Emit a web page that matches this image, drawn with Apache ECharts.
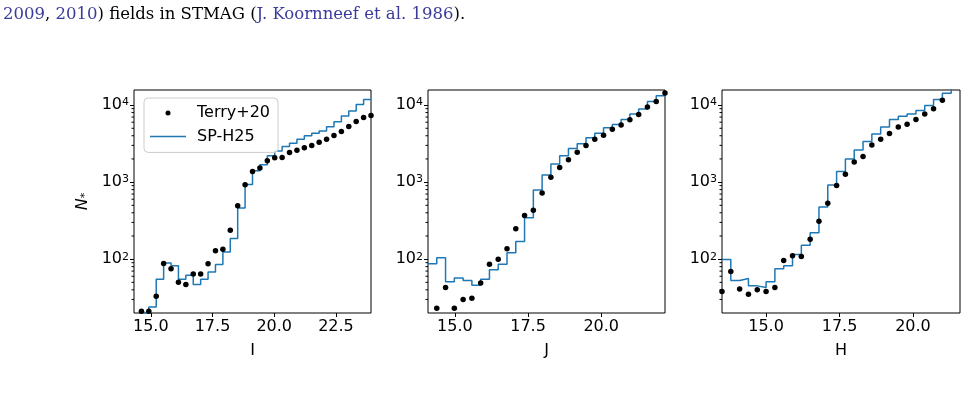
<!DOCTYPE html>
<html>
<head>
<meta charset="utf-8">
<script src="https://cdn.jsdelivr.net/npm/echarts@6/dist/echarts.min.js"></script>
<style>
  html, body { margin: 0; padding: 0; background: #fff; }
  #chart { width: 965px; height: 397px; }
</style>
</head>
<body>
<div id="chart"></div>
<script>
// bin centres (mag) and star counts per panel
const iMag = [14.32, 14.62, 14.92, 15.22, 15.52, 15.82, 16.12, 16.42, 16.72, 17.02, 17.32, 17.62, 17.92, 18.22, 18.52, 18.82, 19.12,
  19.42, 19.72, 20.02, 20.32, 20.62, 20.92, 21.22, 21.52, 21.82, 22.12, 22.42, 22.72, 23.02, 23.32, 23.62, 23.92];
const iTerry = [null, 21, 21, 33, 88, 75, 50, 47, 64, 64, 87, 129, 134, 237, 495, 922, 1377, 1520, 1890, 2070, 2090,
  2430, 2600, 2790, 2990, 3300, 3610, 4040, 4550, 5280, 6130, 6920, 7300];
const iModel = [18, 20.3, 24, 55, 89, 82, 55, 62, 47, 55, 68, 85, 124, 185, 460, 930, 1400, 1680, 2200, 2530, 2890,
  3190, 3590, 4010, 4300, 4600, 5240, 6080, 7200, 8360, 10200, 11840, 11840];

const jMag = [14.08, 14.38, 14.68, 14.98, 15.28, 15.58, 15.88, 16.18, 16.48, 16.78, 17.08, 17.38, 17.68, 17.98, 18.28,
  18.58, 18.88, 19.18, 19.48, 19.78, 20.08, 20.38, 20.68, 20.98, 21.28, 21.58, 21.88, 22.18];
const jTerry = [null, 23, 43, 23, 30, 31, 49, 86, 100, 136, 249, 370, 430, 720, 1160, 1550, 1950, 2450, 2990, 3610,
  4070, 4870, 5500, 6450, 7570, 9420, 11170, 14300];
const jModel = [87, 104, 51, 57, 53, 46, 55, 73, 86, 121, 170, 346, 791, 1240, 1720, 2200, 2740, 3150, 3770, 4300,
  5080, 5610, 6520, 7640, 8870, 11160, 13200, 14500];

const hMag = [13.5, 13.8, 14.1, 14.4, 14.7, 15.0, 15.3, 15.6, 15.9, 16.2, 16.5, 16.8, 17.1, 17.4, 17.7, 18.0, 18.3,
  18.6, 18.9, 19.2, 19.5, 19.8, 20.1, 20.4, 20.7, 21.0, 21.3, 21.6];
const hTerry = [38, 69, 41, 35, 40, 38, 43, 96, 111, 108, 181, 310, 530, 906, 1270, 1820, 2150, 3030, 3610, 4290,
  5180, 5660, 6520, 7640, 8950, 11600, null, null];
const hModel = [99, 53, 56, 45, 43, 51, 75, 82, 115, 151, 221, 476, 918, 1375, 2000, 2620, 3360, 4200, 5210, 6480,
  7160, 7680, 8500, 9850, 11800, 14200, 17500, 19000];

const iTicks = [15, 17.5, 20, 22.5];
const jTicks = [15, 17.5, 20];
const hTicks = [15, 17.5, 20];
const minorTicks = [30, 40, 50, 60, 70, 80, 90, 200, 300, 400, 500, 600, 700, 800, 900,
  2000, 3000, 4000, 5000, 6000, 7000, 8000, 9000];

const FONT = 'DejaVu Sans';
const BLUE = '#1f77b4';
const Y_MIN = 20, Y_MAX = 15700;

const panels = [
  { mag: iMag, terry: iTerry, model: iModel, ticks: iTicks, label: 'I', left: 134, width: 237 },
  { mag: jMag, terry: jTerry, model: jModel, ticks: jTicks, label: 'J', left: 428, width: 237 },
  { mag: hMag, terry: hTerry, model: hModel, ticks: hTicks, label: 'H', left: 722, width: 238 }
];

const myChart = echarts.init(document.getElementById('chart'), null, { renderer: 'canvas' });

const grid = [], xAxis = [], yAxis = [], series = [];
panels.forEach((p, i) => {
  grid.push({
    left: p.left, top: 90, width: p.width, height: 223,
    show: true, borderColor: '#000', borderWidth: 1, backgroundColor: 'transparent'
  });
  xAxis.push({
    gridIndex: i, type: 'value',
    min: p.mag[0], max: p.mag[p.mag.length - 1],
    name: p.label, nameLocation: 'middle', nameGap: 30,
    nameTextStyle: { fontFamily: FONT, fontSize: 16, color: '#000' },
    axisLine: { show: false },
    splitLine: { show: false },
    axisTick: { show: true, length: 4, customValues: p.ticks, lineStyle: { color: '#000', width: 1 } },
    axisLabel: {
      customValues: p.ticks, margin: 6,
      fontFamily: FONT, fontSize: 16, color: '#000',
      formatter: v => v.toFixed(1)
    }
  });
  yAxis.push({
    gridIndex: i, type: 'log', logBase: 10, min: Y_MIN, max: Y_MAX,
    name: i === 0 ? '{n|N}{s|*}' : '', nameLocation: 'middle', nameGap: 43,
    nameTextStyle: {
      rich: {
        n: { fontFamily: FONT, fontStyle: 'italic', fontSize: 16, color: '#000' },
        s: { fontFamily: FONT, fontSize: 11, color: '#000', verticalAlign: 'bottom' }
      }
    },
    axisLine: { show: false },
    splitLine: { show: false },
    axisTick: { show: true, length: 4, lineStyle: { color: '#000', width: 1 } },
    axisLabel: {
      margin: 5, showMinLabel: false, showMaxLabel: false,
      formatter: v => {
        const lg = Math.log10(v);
        const e = Math.round(lg);
        return Math.abs(lg - e) < 1e-6 ? '{b|10}{s|' + e + '}' : '';
      },
      rich: {
        b: { fontFamily: FONT, fontSize: 16, color: '#000' },
        s: { fontFamily: FONT, fontSize: 11, color: '#000', verticalAlign: 'top' }
      }
    }
  });
  series.push({
    name: 'SP-H25', type: 'line', xAxisIndex: i, yAxisIndex: i,
    step: 'end', symbol: 'none', clip: true,
    lineStyle: { color: BLUE, width: 1.5 },
    itemStyle: { color: BLUE },
    data: p.mag.map((m, k) => [m, p.model[k]]),
    z: 2
  });
  series.push({
    name: 'Terry+20', type: 'scatter', xAxisIndex: i, yAxisIndex: i,
    symbol: 'circle', symbolSize: 5.5,
    itemStyle: { color: '#000', opacity: 1 },
    data: p.mag.map((m, k) => [m, p.terry[k]]).filter(d => d[1] !== null),
    z: 3
  });
  // log minor ticks on the left spine
  series.push({
    name: 'minor', type: 'scatter', xAxisIndex: i, yAxisIndex: i,
    symbol: 'rect', symbolSize: [2.5, 1], symbolOffset: [-1.25, 0],
    itemStyle: { color: '#000', opacity: 1 }, clip: false, silent: true,
    data: minorTicks.map(v => [p.mag[0], v]),
    z: 4
  });
});

myChart.setOption({
  animation: false,
  backgroundColor: '#fff',
  grid: grid,
  xAxis: xAxis,
  yAxis: yAxis,
  legend: {
    data: [
      { name: 'Terry+20', icon: 'circle', itemStyle: { color: '#000', opacity: 1 } },
      { name: 'SP-H25', icon: 'path://M0,0L36,0L36,1.5L0,1.5Z', itemStyle: { color: BLUE } }
    ],
    orient: 'vertical', left: 144, top: 98,
    padding: [6, 8, 7, 6],
    itemWidth: 36, itemHeight: 5, itemGap: 5.4,
    backgroundColor: 'rgba(255,255,255,0.8)',
    borderColor: '#cccccc', borderWidth: 1, borderRadius: 4,
    textStyle: { fontFamily: FONT, fontSize: 16, color: '#000', lineHeight: 18, padding: [0, 0, 0, 6] },
    selectedMode: false,
    z: 10
  },
  graphic: [{
    type: 'text', left: 3, top: 6,
    style: {
      text: '{a|2009}{k|, }{a|2010}{k|) fields in STMAG (}{a|J. Koornneef et al. 1986}{k|).}',
      rich: {
        a: { fontFamily: 'DejaVu Serif', fontSize: 16.5, fill: '#3b3b9c' },
        k: { fontFamily: 'DejaVu Serif', fontSize: 16.5, fill: '#000' }
      }
    }
  }],
  series: series
});
</script>
</body>
</html>
